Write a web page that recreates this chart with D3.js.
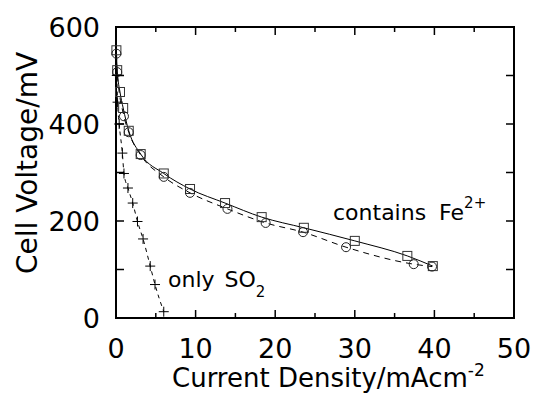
<!DOCTYPE html>
<html>
<head>
<meta charset="utf-8">
<script src="https://cdn.jsdelivr.net/npm/d3@7"></script>
<style>
  body { margin: 0; background: #fff; }
  svg { display: block; font-family: "DejaVu Sans", sans-serif; }
</style>
</head>
<body>
<svg id="chart" width="533" height="394"></svg>
<script>
// Contains Fe2+ : squares (solid line) and circles (dashed line)
const squareX = [0.05, 0.15, 0.5, 0.9, 1.6, 3.1, 6.0, 9.3, 13.7, 18.3, 23.6, 30.0, 36.6, 39.8];
const squareV = [552, 511, 466, 433, 386, 338, 298, 266, 237, 208, 186, 159, 128, 107];
const circleX = [0.05, 0.15, 1.0, 1.6, 3.1, 6.0, 9.3, 14.0, 18.8, 23.5, 28.9, 37.4, 39.7];
const circleV = [545, 507, 416, 383, 336, 291, 258, 225, 196, 177, 146, 111, 106];
// Only SO2 : crosses (dashed line)
const crossX = [0.1, 0.2, 0.4, 0.8, 1.0, 1.5, 2.1, 2.7, 3.4, 4.3, 4.9, 6.0];
const crossV = [500, 445, 400, 340, 298, 268, 237, 199, 163, 107, 69, 13];

const xTicks = [0, 10, 20, 30, 40, 50];
const xMinor = [5, 15, 25, 35, 45];
const yTicks = [0, 200, 400, 600];
const yMinor = [100, 300, 500];

const zip = (xs, ys) => xs.map((x, i) => ({x: x, v: ys[i]}));
const squares = zip(squareX, squareV);
const circles = zip(circleX, circleV);
const crosses = zip(crossX, crossV);

const svg = d3.select("#chart"),
      margin = {top: 27, right: 19, bottom: 76, left: 116},
      width = +svg.attr("width"),
      height = +svg.attr("height");

const x = d3.scaleLinear().domain([0, 50]).range([margin.left, width - margin.right]);
const y = d3.scaleLinear().domain([0, 600]).range([height - margin.bottom, margin.top]);

const x0 = x.range()[0], x1 = x.range()[1], y0 = y.range()[0], y1 = y.range()[1];

// Inward ticks on all four sides
const tickG = svg.append("g").attr("stroke", "#000").attr("stroke-width", 1.5);
xTicks.slice(1, -1).forEach(t => {
    tickG.append("line").attr("x1", x(t)).attr("x2", x(t)).attr("y1", y0).attr("y2", y0 - 8);
    tickG.append("line").attr("x1", x(t)).attr("x2", x(t)).attr("y1", y1).attr("y2", y1 + 8);
});
xMinor.forEach(t => {
    tickG.append("line").attr("x1", x(t)).attr("x2", x(t)).attr("y1", y0).attr("y2", y0 - 5);
    tickG.append("line").attr("x1", x(t)).attr("x2", x(t)).attr("y1", y1).attr("y2", y1 + 5);
});
yTicks.slice(1, -1).concat(yMinor).forEach(t => {
    tickG.append("line").attr("y1", y(t)).attr("y2", y(t)).attr("x1", x0).attr("x2", x0 + 8);
    tickG.append("line").attr("y1", y(t)).attr("y2", y(t)).attr("x1", x1).attr("x2", x1 - 8);
});

// Frame
svg.append("rect")
    .attr("x", x0).attr("y", y1)
    .attr("width", x1 - x0).attr("height", y0 - y1)
    .attr("fill", "none").attr("stroke", "#000").attr("stroke-width", 2);

// Tick labels
svg.append("g").selectAll("text").data(xTicks).join("text")
    .attr("x", d => x(d)).attr("y", y0 + 40)
    .attr("text-anchor", "middle").attr("font-size", 27)
    .text(d => d);

svg.append("g").selectAll("text").data(yTicks).join("text")
    .attr("x", x0 - 16).attr("y", d => y(d) + 10)
    .attr("text-anchor", "end").attr("font-size", 27)
    .text(d => d);

// Axis titles
const xt = svg.append("text")
    .attr("x", 172).attr("y", 387)
    .attr("font-size", 26);
xt.append("tspan").text("Current Density/mAcm");
xt.append("tspan").attr("font-size", 17).attr("dy", -11).text("-2");

svg.append("text")
    .attr("transform", "translate(37,163) rotate(-90)")
    .attr("text-anchor", "middle").attr("font-size", 28)
    .text("Cell Voltage/mV");

// Curves
const line = d3.line().x(d => x(d.x)).y(d => y(d.v)).curve(d3.curveMonotoneX);

svg.append("path").datum(squares)
    .attr("fill", "none").attr("stroke", "#000").attr("stroke-width", 1)
    .attr("d", line);
svg.append("path").datum(circles)
    .attr("fill", "none").attr("stroke", "#000").attr("stroke-width", 1)
    .attr("stroke-dasharray", "6,5")
    .attr("d", line);
svg.append("path").datum(crosses)
    .attr("fill", "none").attr("stroke", "#000").attr("stroke-width", 1)
    .attr("stroke-dasharray", "4,4")
    .attr("d", line);

// Markers
svg.append("g").selectAll("rect").data(squares).join("rect")
    .attr("x", d => x(d.x) - 4.5).attr("y", d => y(d.v) - 4.5)
    .attr("width", 9).attr("height", 9)
    .attr("fill", "none").attr("stroke", "#333").attr("stroke-width", 1);

svg.append("g").selectAll("circle").data(circles).join("circle")
    .attr("cx", d => x(d.x)).attr("cy", d => y(d.v)).attr("r", 4.5)
    .attr("fill", "none").attr("stroke", "#222").attr("stroke-width", 1);

svg.append("g").selectAll("path").data(crosses).join("path")
    .attr("d", d => `M${x(d.x) - 5},${y(d.v)}h10M${x(d.x)},${y(d.v) - 5}v10`)
    .attr("stroke", "#000").attr("stroke-width", 1);

// Annotations
const fe = svg.append("text").attr("x", 333).attr("y", 220).attr("font-size", 22);
fe.append("tspan").text("contains");
fe.append("tspan").attr("dx", 6).text(" Fe");
fe.append("tspan").attr("font-size", 15).attr("dy", -12).text("2+");

const so = svg.append("text").attr("x", 168).attr("y", 287).attr("font-size", 22);
so.append("tspan").text("only");
so.append("tspan").attr("dx", 3).text(" SO");
so.append("tspan").attr("font-size", 15).attr("dy", 10).text("2");
</script>
</body>
</html>
